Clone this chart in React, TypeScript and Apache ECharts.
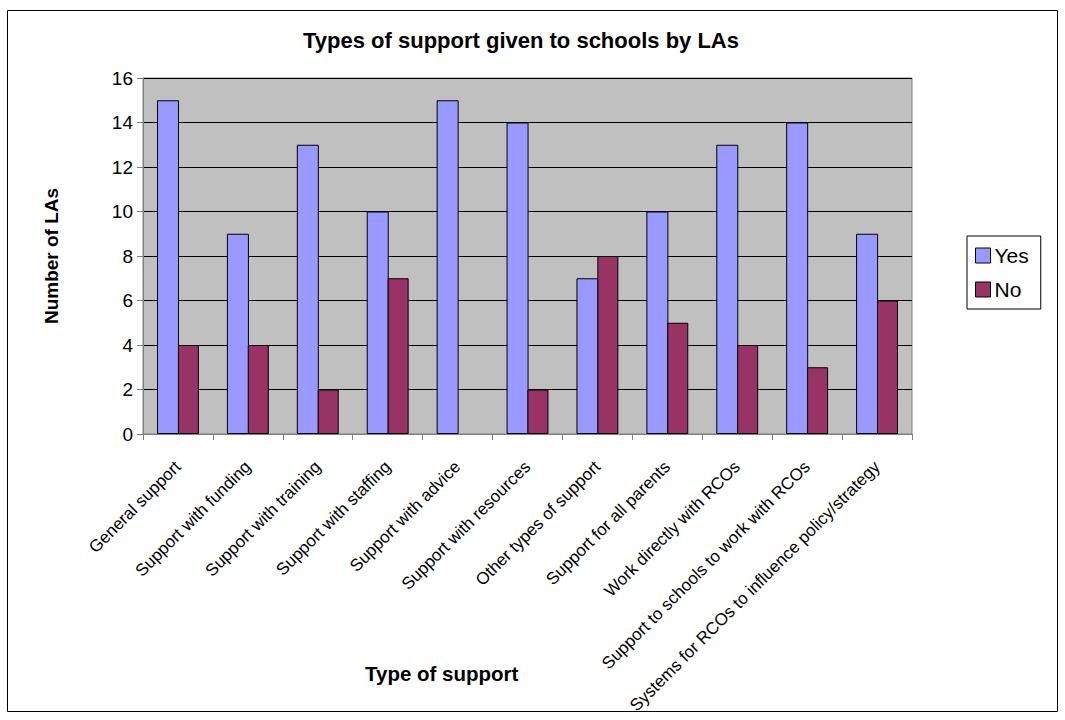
import React, { useEffect, useRef } from "react";
import * as echarts from "echarts";

const categories = [
  "General support",
  "Support with funding",
  "Support with training",
  "Support with staffing",
  "Support with advice",
  "Support with resources",
  "Other types of support",
  "Support for all parents",
  "Work directly with RCOs",
  "Support to schools to work with RCOs",
  "Systems for RCOs to influence policy/strategy",
];
const yesValues = [15, 9, 13, 10, 15, 14, 7, 10, 13, 14, 9];
const noValues = [4, 4, 2, 7, 0, 2, 8, 5, 4, 3, 6];

const FONT = "'Liberation Sans', Arial, sans-serif";

export default function App() {
  const ref = useRef<HTMLDivElement>(null);
  useEffect(() => {
    if (!ref.current) return;
    const chart = echarts.init(ref.current, undefined, { renderer: "svg" });
    const barData = (vals: number[]) =>
      vals.map((v) => (v === 0 ? { value: v, itemStyle: { borderWidth: 0 } } : v));
    chart.setOption({
      animation: false,
      backgroundColor: "#fff",
      textStyle: { fontFamily: FONT },
      title: {
        text: "Types of support given to schools by LAs",
        left: 516,
        textAlign: "center",
        top: 24,
        textStyle: { fontSize: 22, fontWeight: "bold", color: "#000", fontFamily: FONT },
      },
      graphic: [
        {
          type: "rect",
          shape: { x: 7.5, y: 10.5, width: 1050, height: 701 },
          style: { fill: "none", stroke: "#000", lineWidth: 1 },
          silent: true,
        },
        {
          type: "text",
          left: 365,
          top: 663,
          style: {
            text: "Type of support",
            fontSize: 20.5,
            fontWeight: "bold",
            fill: "#000",
            fontFamily: FONT,
          },
          silent: true,
        },
      ],
      legend: {
        orient: "vertical",
        left: 967,
        top: 236,
        padding: [9, 12, 9, 8],
        itemGap: 13,
        itemWidth: 15,
        itemHeight: 15,
        borderColor: "#000",
        borderWidth: 1,
        icon: "rect",
        itemStyle: { borderColor: "#000", borderWidth: 1 },
        textStyle: { fontSize: 21, color: "#000", fontFamily: FONT, padding: [0, 0, 0, -1] },
        data: ["Yes", "No"],
      },
      grid: {
        left: 143,
        top: 78,
        right: 153,
        bottom: 286,
        containLabel: false,
        outerBoundsMode: "none",
        show: true,
        backgroundColor: "#C0C0C0",
        borderColor: "#808080",
        borderWidth: 1,
      },
      xAxis: {
        type: "category",
        data: categories,
        axisLine: { lineStyle: { color: "#808080", width: 1 } },
        axisTick: { show: true, length: 6, lineStyle: { color: "#808080" } },
        axisLabel: {
          interval: 0,
          rotate: 45,
          fontSize: 17,
          color: "#000",
          margin: 30,
          fontFamily: FONT,
        },
      },
      yAxis: {
        type: "value",
        min: 0,
        max: 16,
        interval: 2,
        name: "Number of LAs",
        nameLocation: "middle",
        nameGap: 82,
        nameTextStyle: { fontSize: 19, fontWeight: "bold", color: "#000", fontFamily: FONT },
        axisLine: { show: true, lineStyle: { color: "#808080", width: 1 } },
        axisTick: { show: true, length: 6, lineStyle: { color: "#808080" } },
        axisLabel: { fontSize: 19, color: "#000", margin: 10, fontFamily: FONT },
        splitLine: { show: true, lineStyle: { color: "#000", width: 1 } },
      },
      series: [
        {
          name: "Yes",
          type: "bar",
          data: barData(yesValues),
          barWidth: 22,
          barGap: "-5%",
          itemStyle: { color: "#9999FF", borderColor: "#000", borderWidth: 1 },
        },
        {
          name: "No",
          type: "bar",
          data: barData(noValues),
          barWidth: 21,
          itemStyle: { color: "#993366", borderColor: "#000", borderWidth: 1 },
        },
      ],
    });
    return () => chart.dispose();
  }, []);
  return (
    <div
      ref={ref}
      style={{ position: "absolute", left: 0, top: 0, width: 1065, height: 720 }}
    />
  );
}
